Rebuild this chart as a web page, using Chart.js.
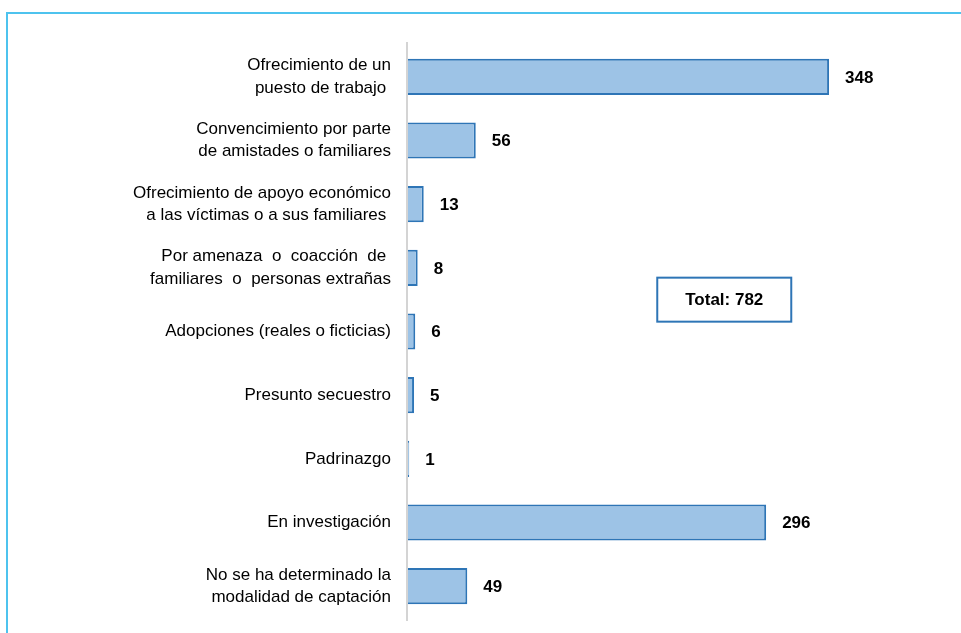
<!DOCTYPE html>
<html>
<head>
<meta charset="utf-8">
<script src="https://cdn.jsdelivr.net/npm/chart.js@4/dist/chart.umd.min.js"></script>
<style>
	html, body { margin: 0; padding: 0; background: #fff; }
	#wrap { width: 961px; height: 633px; position: relative; }
</style>
</head>
<body>
<div id="wrap"><canvas id="myChart"></canvas></div>
<script>
const categories = [
	['Ofrecimiento de un', 'puesto de trabajo '],
	['Convencimiento por parte', 'de amistades o familiares'],
	['Ofrecimiento de apoyo económico', 'a las víctimas o a sus familiares '],
	['Por amenaza  o  coacción  de ', 'familiares  o  personas extrañas'],
	'Adopciones (reales o ficticias)',
	'Presunto secuestro',
	'Padrinazgo',
	'En investigación',
	['No se ha determinado la', 'modalidad de captación']
];
const cases = [348, 56, 13, 8, 6, 5, 1, 296, 49];
const totalLabel = 'Total: 782';

const FONT = '"Liberation Sans", Arial, sans-serif';

const framePlugin = {
	id: 'frame',
	beforeDraw(chart) {
		const ctx = chart.ctx;
		ctx.save();
		ctx.fillStyle = '#fff';
		ctx.fillRect(0, 0, chart.width, chart.height);
		ctx.strokeStyle = '#4ec3ee';
		ctx.lineWidth = 2;
		ctx.beginPath();
		ctx.moveTo(7, chart.height);
		ctx.lineTo(7, 13);
		ctx.lineTo(chart.width, 13);
		ctx.stroke();
		// eje vertical un poco más largo que el área
		const a = chart.chartArea;
		ctx.strokeStyle = '#d4d4d4';
		ctx.beginPath();
		ctx.moveTo(a.left - 1, a.top - 3);
		ctx.lineTo(a.left - 1, a.bottom + 3);
		ctx.stroke();
		ctx.restore();
	}
};

const valuePlugin = {
	id: 'values',
	afterDatasetsDraw(chart) {
		const ctx = chart.ctx;
		const meta = chart.getDatasetMeta(0);
		ctx.save();
		ctx.font = 'bold 17px ' + FONT;
		ctx.fillStyle = '#000';
		ctx.textBaseline = 'middle';
		meta.data.forEach((bar, i) => {
			ctx.fillText(String(cases[i]), bar.x + 16, bar.y + 1);
		});

		// caja con el total
		const x = chart.scales.x.getPixelForValue(206);
		const y = chart.scales.y.getPixelForValue(3.5);
		ctx.strokeStyle = '#2e75b6';
		ctx.lineWidth = 2;
		ctx.strokeRect(x, y - 22, 134, 44);
		ctx.textAlign = 'center';
		ctx.fillText(totalLabel, x + 67, y + 1);
		ctx.restore();
	}
};

const ctx = document.getElementById('myChart').getContext('2d');
new Chart(ctx, {
	type: 'bar',
	data: {
		labels: categories,
		datasets: [{
			data: cases,
			backgroundColor: '#9dc3e6',
			borderColor: '#2e75b6',
			borderWidth: 2,
			borderSkipped: 'left',
			barPercentage: 0.8,
			categoryPercentage: 0.71
		}]
	},
	options: {
		indexAxis: 'y',
		responsive: true,
		maintainAspectRatio: false,
		animation: false,
		layout: { padding: { top: 45, bottom: 15, right: 69, left: 0 } },
		plugins: {
			legend: { display: false },
			tooltip: { enabled: false }
		},
		scales: {
			x: {
				display: false,
				min: 0,
				max: 400
			},
			y: {
				grid: { display: false, drawTicks: false },
				border: { display: false },
				ticks: {
					color: '#000',
					padding: 17,
					font: { family: FONT, size: 17, lineHeight: 1.3 }
				},
				afterFit(scale) {
					scale.width = 408;
					scale.paddingTop = 0;
					scale.paddingBottom = 0;
				}
			}
		}
	},
	plugins: [framePlugin, valuePlugin]
});
</script>
</body>
</html>
